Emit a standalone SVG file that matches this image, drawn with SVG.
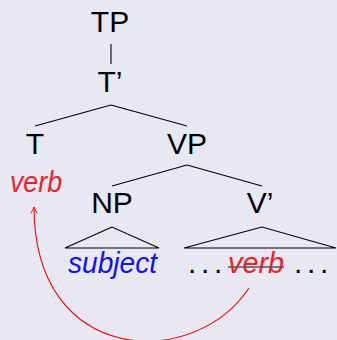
<svg xmlns="http://www.w3.org/2000/svg" width="337" height="340" viewBox="0 0 337 340">
<defs>
<style>
.lbl{font-family:"Liberation Sans","DejaVu Sans",sans-serif;font-size:30px;fill:#000}
.it{font-style:italic}
.red{fill:#f0202a}
.blue{fill:#1010ff}
.edge{stroke:#000;stroke-width:1.1;fill:none}
.move{stroke:#ff0000;stroke-width:1.1;fill:none}
</style>
<marker id="to" viewBox="0 0 10 10" refX="9" refY="5" markerWidth="8" markerHeight="8" markerUnits="userSpaceOnUse" orient="auto">
<path d="M1,1 Q6,4 9,5 Q6,6 1,9" fill="none" stroke="#ff0000" stroke-width="1.2"/>
</marker>
</defs>
<rect width="337" height="340" fill="#e8e8f2"/>
<g id="connectors">
<line class="edge" x1="111" y1="44" x2="111" y2="64"/>
<line class="edge" x1="111" y1="105" x2="35" y2="126"/>
<line class="edge" x1="111" y1="105" x2="187" y2="126"/>
<line class="edge" x1="187" y1="165" x2="112" y2="186"/>
<line class="edge" x1="187" y1="165" x2="262" y2="186"/>
<path class="edge" d="M112,227 L65,248 L159,248 Z"/>
<path class="edge" d="M262,227 L184,248 L336,248 Z"/>
<path class="move" d="M249,288 C194,371 34,366 34,207" marker-end="url(#to)"/>
</g>
<g id="TP"><text class="lbl" x="110" y="32" text-anchor="middle">TP</text></g>
<g id="Tbar"><text class="lbl" x="110" y="92" text-anchor="middle">T’</text></g>
<g id="T"><text class="lbl" x="35" y="154" text-anchor="middle">T</text></g>
<g id="VP"><text class="lbl" x="187" y="154" text-anchor="middle">VP</text></g>
<g id="verb-moved"><text class="lbl it red" x="10" y="192" textLength="52" lengthAdjust="spacingAndGlyphs">verb</text></g>
<g id="NP"><text class="lbl" x="112" y="213" text-anchor="middle">NP</text></g>
<g id="Vbar"><text class="lbl" x="260" y="213" text-anchor="middle">V’</text></g>
<g id="subject"><text class="lbl it blue" x="68" y="273" textLength="89" lengthAdjust="spacingAndGlyphs">subject</text></g>
<g id="verb-trace">
<text class="lbl" y="273"><tspan x="188" letter-spacing="4.7">...</tspan><tspan x="228" class="it red" textLength="56" lengthAdjust="spacingAndGlyphs">verb</tspan><tspan x="294" letter-spacing="4.7">...</tspan></text>
<line x1="228" y1="267" x2="284" y2="267" stroke="#555" stroke-width="1.5"/>
</g>
</svg>
